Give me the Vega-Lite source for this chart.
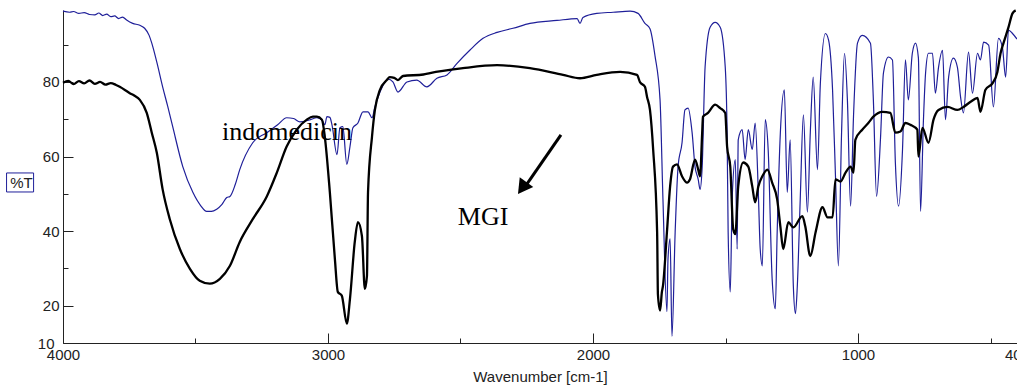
{
  "$schema": "https://vega.github.io/schema/vega-lite/v6.json",
  "width": 954,
  "height": 333,
  "autosize": "none",
  "padding": {"left": 63, "top": 10, "right": 0, "bottom": 49},
  "background": "white",
  "config": {"view": {"stroke": null}},
  "datasets": {
    "blue": [
      {"wn":4000,"t":99.0},{"wn":3975,"t":98.7},{"wn":3960,"t":98.9},{"wn":3940,"t":98.4},{"wn":3920,"t":98.6},{"wn":3900,"t":98.1},{"wn":3880,"t":98.0},{"wn":3865,"t":98.5},{"wn":3850,"t":97.8},{"wn":3835,"t":98.2},{"wn":3820,"t":97.5},{"wn":3805,"t":97.7},{"wn":3790,"t":97.0},{"wn":3775,"t":97.4},{"wn":3760,"t":96.6},{"wn":3737,"t":95.7},{"wn":3710,"t":95.2},{"wn":3692,"t":94.4},{"wn":3675,"t":92.5},{"wn":3665,"t":90.4},{"wn":3646,"t":85.3},{"wn":3624,"t":78.7},{"wn":3605,"t":73.5},{"wn":3586,"t":68.0},{"wn":3548,"t":57.3},{"wn":3510,"t":50.4},{"wn":3480,"t":46.8},{"wn":3458,"t":45.3},{"wn":3440,"t":45.3},{"wn":3420,"t":45.9},{"wn":3400,"t":47.2},{"wn":3382,"t":49.0},{"wn":3370,"t":49.3},{"wn":3350,"t":52.5},{"wn":3333,"t":56.5},{"wn":3284,"t":63.7},{"wn":3231,"t":66.4},{"wn":3190,"t":68.5},{"wn":3156,"t":70.4},{"wn":3130,"t":70.2},{"wn":3106,"t":69.3},{"wn":3070,"t":69.8},{"wn":3042,"t":70.4},{"wn":3020,"t":69.5},{"wn":3012,"t":68.5},{"wn":3004,"t":70.7},{"wn":2993,"t":70.5},{"wn":2985,"t":68.5},{"wn":2966,"t":60.5},{"wn":2955,"t":67.7},{"wn":2944,"t":68.0},{"wn":2929,"t":57.9},{"wn":2917,"t":62.7},{"wn":2906,"t":67.7},{"wn":2887,"t":69.0},{"wn":2868,"t":72.0},{"wn":2849,"t":72.0},{"wn":2834,"t":70.4},{"wn":2823,"t":73.3},{"wn":2797,"t":78.4},{"wn":2774,"t":80.8},{"wn":2755,"t":80.0},{"wn":2736,"t":77.3},{"wn":2702,"t":80.0},{"wn":2665,"t":80.5},{"wn":2627,"t":78.7},{"wn":2589,"t":81.0},{"wn":2551,"t":81.9},{"wn":2513,"t":85.0},{"wn":2465,"t":88.5},{"wn":2415,"t":91.7},{"wn":2362,"t":93.3},{"wn":2302,"t":94.4},{"wn":2238,"t":95.7},{"wn":2136,"t":96.5},{"wn":2060,"t":97.0},{"wn":2049,"t":95.7},{"wn":2038,"t":97.3},{"wn":1986,"t":98.4},{"wn":1924,"t":98.7},{"wn":1860,"t":99.0},{"wn":1830,"t":98.4},{"wn":1804,"t":95.7},{"wn":1785,"t":94.3},{"wn":1766,"t":87.0},{"wn":1747,"t":75.2},{"wn":1736,"t":48.5},{"wn":1721,"t":18.4},{"wn":1717,"t":32.5},{"wn":1709,"t":37.9},{"wn":1702,"t":11.8},{"wn":1690,"t":39.7},{"wn":1679,"t":57.3},{"wn":1664,"t":63.7},{"wn":1653,"t":72.5},{"wn":1641,"t":73.0},{"wn":1626,"t":66.4},{"wn":1615,"t":57.3},{"wn":1603,"t":53.9},{"wn":1596,"t":51.2},{"wn":1588,"t":57.3},{"wn":1577,"t":84.0},{"wn":1558,"t":94.7},{"wn":1539,"t":96.0},{"wn":1520,"t":94.7},{"wn":1501,"t":84.0},{"wn":1494,"t":66.4},{"wn":1490,"t":39.7},{"wn":1482,"t":23.7},{"wn":1475,"t":48.5},{"wn":1463,"t":59.2},{"wn":1456,"t":35.2},{"wn":1452,"t":64.5},{"wn":1437,"t":67.2},{"wn":1426,"t":59.2},{"wn":1414,"t":67.2},{"wn":1399,"t":61.9},{"wn":1388,"t":69.0},{"wn":1376,"t":50.0},{"wn":1369,"t":35.2},{"wn":1361,"t":30.7},{"wn":1350,"t":69.9},{"wn":1339,"t":61.9},{"wn":1324,"t":27.2},{"wn":1312,"t":19.2},{"wn":1305,"t":39.7},{"wn":1293,"t":66.4},{"wn":1278,"t":77.9},{"wn":1267,"t":50.4},{"wn":1256,"t":64.5},{"wn":1244,"t":25.3},{"wn":1236,"t":17.9},{"wn":1229,"t":25.3},{"wn":1218,"t":48.5},{"wn":1206,"t":71.2},{"wn":1191,"t":45.1},{"wn":1180,"t":66.4},{"wn":1169,"t":81.3},{"wn":1153,"t":56.5},{"wn":1142,"t":79.7},{"wn":1123,"t":93.0},{"wn":1111,"t":91.2},{"wn":1096,"t":77.9},{"wn":1085,"t":54.7},{"wn":1074,"t":30.7},{"wn":1062,"t":66.4},{"wn":1051,"t":87.7},{"wn":1040,"t":75.2},{"wn":1028,"t":46.7},{"wn":1017,"t":70.7},{"wn":1002,"t":90.4},{"wn":984,"t":92.5},{"wn":953,"t":90.4},{"wn":942,"t":75.2},{"wn":930,"t":49.3},{"wn":915,"t":65.0},{"wn":904,"t":82.4},{"wn":885,"t":86.7},{"wn":870,"t":85.9},{"wn":859,"t":58.4},{"wn":847,"t":46.7},{"wn":832,"t":61.9},{"wn":821,"t":85.9},{"wn":810,"t":75.2},{"wn":795,"t":87.7},{"wn":783,"t":90.4},{"wn":772,"t":86.4},{"wn":764,"t":45.3},{"wn":753,"t":69.9},{"wn":745,"t":82.4},{"wn":734,"t":87.7},{"wn":719,"t":87.7},{"wn":708,"t":77.0},{"wn":696,"t":84.0},{"wn":681,"t":88.5},{"wn":670,"t":69.9},{"wn":658,"t":81.3},{"wn":640,"t":86.4},{"wn":625,"t":84.0},{"wn":613,"t":76.0},{"wn":602,"t":71.7},{"wn":583,"t":88.0},{"wn":568,"t":77.0},{"wn":549,"t":87.7},{"wn":538,"t":85.9},{"wn":526,"t":90.7},{"wn":507,"t":89.9},{"wn":489,"t":73.3},{"wn":470,"t":91.7},{"wn":455,"t":89.3},{"wn":443,"t":81.3},{"wn":432,"t":93.9},{"wn":417,"t":93.0},{"wn":400,"t":91.5}
    ],
    "black": [
      {"wn":4000,"t":79.8},{"wn":3980,"t":80.3},{"wn":3960,"t":79.4},{"wn":3940,"t":80.2},{"wn":3920,"t":79.6},{"wn":3900,"t":80.4},{"wn":3880,"t":79.5},{"wn":3860,"t":80.0},{"wn":3840,"t":79.3},{"wn":3820,"t":79.7},{"wn":3800,"t":79.2},{"wn":3786,"t":78.7},{"wn":3765,"t":77.8},{"wn":3748,"t":77.0},{"wn":3730,"t":76.3},{"wn":3710,"t":75.2},{"wn":3684,"t":71.7},{"wn":3665,"t":66.4},{"wn":3646,"t":61.0},{"wn":3624,"t":51.2},{"wn":3597,"t":43.2},{"wn":3559,"t":35.2},{"wn":3521,"t":29.9},{"wn":3484,"t":26.7},{"wn":3446,"t":25.9},{"wn":3408,"t":27.2},{"wn":3370,"t":30.7},{"wn":3333,"t":37.1},{"wn":3284,"t":43.2},{"wn":3231,"t":49.3},{"wn":3193,"t":55.7},{"wn":3156,"t":62.7},{"wn":3118,"t":67.2},{"wn":3080,"t":69.9},{"wn":3057,"t":70.7},{"wn":3042,"t":70.7},{"wn":3023,"t":69.9},{"wn":3012,"t":65.3},{"wn":2993,"t":50.4},{"wn":2974,"t":32.5},{"wn":2963,"t":23.7},{"wn":2948,"t":22.7},{"wn":2929,"t":15.2},{"wn":2917,"t":21.9},{"wn":2899,"t":37.1},{"wn":2887,"t":42.4},{"wn":2872,"t":38.7},{"wn":2861,"t":24.5},{"wn":2853,"t":28.0},{"wn":2849,"t":50.4},{"wn":2834,"t":65.3},{"wn":2823,"t":72.5},{"wn":2804,"t":77.9},{"wn":2778,"t":80.5},{"wn":2767,"t":81.3},{"wn":2750,"t":81.1},{"wn":2736,"t":80.5},{"wn":2717,"t":81.6},{"wn":2640,"t":82.0},{"wn":2615,"t":82.4},{"wn":2491,"t":83.7},{"wn":2362,"t":84.5},{"wn":2238,"t":83.7},{"wn":2113,"t":81.9},{"wn":2049,"t":81.0},{"wn":1986,"t":81.9},{"wn":1898,"t":82.7},{"wn":1834,"t":81.9},{"wn":1823,"t":80.0},{"wn":1804,"t":78.7},{"wn":1796,"t":76.0},{"wn":1785,"t":72.5},{"wn":1773,"t":61.9},{"wn":1758,"t":39.7},{"wn":1755,"t":23.0},{"wn":1747,"t":18.7},{"wn":1740,"t":23.7},{"wn":1736,"t":25.3},{"wn":1721,"t":39.7},{"wn":1709,"t":52.0},{"wn":1698,"t":57.3},{"wn":1683,"t":57.9},{"wn":1664,"t":54.7},{"wn":1645,"t":53.0},{"wn":1634,"t":53.9},{"wn":1615,"t":59.2},{"wn":1603,"t":56.5},{"wn":1596,"t":54.7},{"wn":1588,"t":66.4},{"wn":1585,"t":70.7},{"wn":1566,"t":71.7},{"wn":1539,"t":73.9},{"wn":1520,"t":73.0},{"wn":1501,"t":71.7},{"wn":1494,"t":62.7},{"wn":1482,"t":57.3},{"wn":1471,"t":40.5},{"wn":1463,"t":39.2},{"wn":1452,"t":52.0},{"wn":1433,"t":58.4},{"wn":1414,"t":57.3},{"wn":1399,"t":52.0},{"wn":1388,"t":47.7},{"wn":1376,"t":52.0},{"wn":1361,"t":54.7},{"wn":1342,"t":56.5},{"wn":1324,"t":53.0},{"wn":1305,"t":48.5},{"wn":1293,"t":41.3},{"wn":1282,"t":35.2},{"wn":1263,"t":42.4},{"wn":1244,"t":41.0},{"wn":1210,"t":44.0},{"wn":1199,"t":41.3},{"wn":1180,"t":33.3},{"wn":1160,"t":39.7},{"wn":1134,"t":46.4},{"wn":1115,"t":43.7},{"wn":1096,"t":43.7},{"wn":1085,"t":53.9},{"wn":1066,"t":53.3},{"wn":1047,"t":55.7},{"wn":1028,"t":57.3},{"wn":1017,"t":55.7},{"wn":1010,"t":64.5},{"wn":984,"t":67.2},{"wn":961,"t":69.0},{"wn":942,"t":70.7},{"wn":908,"t":72.0},{"wn":878,"t":71.7},{"wn":859,"t":66.4},{"wn":840,"t":66.7},{"wn":821,"t":69.0},{"wn":802,"t":68.5},{"wn":776,"t":67.2},{"wn":772,"t":60.0},{"wn":757,"t":67.7},{"wn":734,"t":63.7},{"wn":715,"t":69.9},{"wn":696,"t":72.5},{"wn":662,"t":73.3},{"wn":625,"t":72.5},{"wn":602,"t":73.3},{"wn":575,"t":74.7},{"wn":549,"t":75.7},{"wn":538,"t":72.0},{"wn":519,"t":77.9},{"wn":492,"t":79.7},{"wn":474,"t":82.7},{"wn":462,"t":87.7},{"wn":451,"t":90.4},{"wn":432,"t":94.7},{"wn":417,"t":98.4},{"wn":405,"t":99.2}
    ],
    "notes": [
      {"wn":3400,"t":64.4,"label":"indomedicin"},
      {"wn":2510,"t":41.7,"label":"MGI"}
    ],
    "arrow": [
      {"wn":2121,"t":65.8},
      {"wn":2249,"t":52.65}
    ],
    "head": [
      {"wn":2267,"t":51.55}
    ],
    "box": [
      {"x1":4213,"x2":4111,"y1":55.6,"y2":50.5}
    ]
  },
  "encoding": {
    "x": {
      "field": "wn", "type": "quantitative",
      "scale": {"domain": [400, 4000], "reverse": true, "nice": false, "zero": false},
      "axis": {
        "title": "Wavenumber [cm-1]",
        "values": [4000,3500,3000,2500,2000,1500,1000,500,400],
        "labelExpr": "(datum.value % 1000 === 0 || datum.value === 400) ? datum.value + '' : ''",
        "labelFlush": false,
        "labelOverlap": false,
        "grid": false,
        "tickSize": {"condition": {"test": "datum.value % 1000 === 0 || datum.value === 400", "value": -10}, "value": -5},
        "labelPadding": 14,
        "domainColor": "#222", "tickColor": "#222",
        "labelFont": "Liberation Sans", "labelFontSize": 15, "labelColor": "#222",
        "titleFont": "Liberation Sans", "titleFontSize": 15, "titleFontWeight": "normal", "titleColor": "#222",
        "titlePadding": 2
      }
    },
    "y": {
      "field": "t", "type": "quantitative",
      "scale": {"domain": [10, 99.3], "nice": false, "zero": false},
      "axis": {
        "title": "%T",
        "values": [10,20,30,40,50,60,70,80,90],
        "labelExpr": "(datum.value === 10 || datum.value % 20 === 0) ? datum.value + '' : ''",
        "labelOverlap": false,
        "labelFlush": false,
        "grid": false,
        "tickSize": {"condition": {"test": "datum.value % 20 === 0", "value": -10}, "value": -5},
        "labelPadding": 14,
        "domainColor": "#222", "tickColor": "#222",
        "labelFont": "Liberation Sans", "labelFontSize": 15, "labelColor": "#222",
        "titleFont": "Liberation Sans", "titleFontSize": 15, "titleFontWeight": "normal", "titleColor": "#222",
        "titleAngle": 0, "titleAlign": "center", "titleBaseline": "middle",
        "titleX": -42, "titleY": 172
      }
    }
  },
  "layer": [
    {
      "data": {"name": "blue"},
      "mark": {"type": "line", "color": "#1f1f99", "strokeWidth": 1.2, "interpolate": "monotone"}
    },
    {
      "data": {"name": "black"},
      "mark": {"type": "line", "color": "#000000", "strokeWidth": 2.3, "interpolate": "monotone"}
    },
    {
      "data": {"name": "notes"},
      "mark": {"type": "text", "font": "Liberation Serif", "fontSize": 26, "align": "left", "baseline": "alphabetic", "color": "#000000"},
      "encoding": {"text": {"field": "label"}}
    },
    {
      "data": {"name": "arrow"},
      "mark": {"type": "line", "color": "#000000", "strokeWidth": 3}
    },
    {
      "data": {"name": "head"},
      "mark": {"type": "point", "shape": "triangle-up", "angle": 216, "size": 280, "filled": true, "color": "#000000", "opacity": 1}
    },
    {
      "data": {"name": "box"},
      "mark": {"type": "rect", "fill": null, "stroke": "#1f1f99", "strokeWidth": 1},
      "encoding": {
        "x": {"field": "x1", "type": "quantitative"},
        "x2": {"field": "x2"},
        "y": {"field": "y1", "type": "quantitative"},
        "y2": {"field": "y2"}
      }
    }
  ]
}
